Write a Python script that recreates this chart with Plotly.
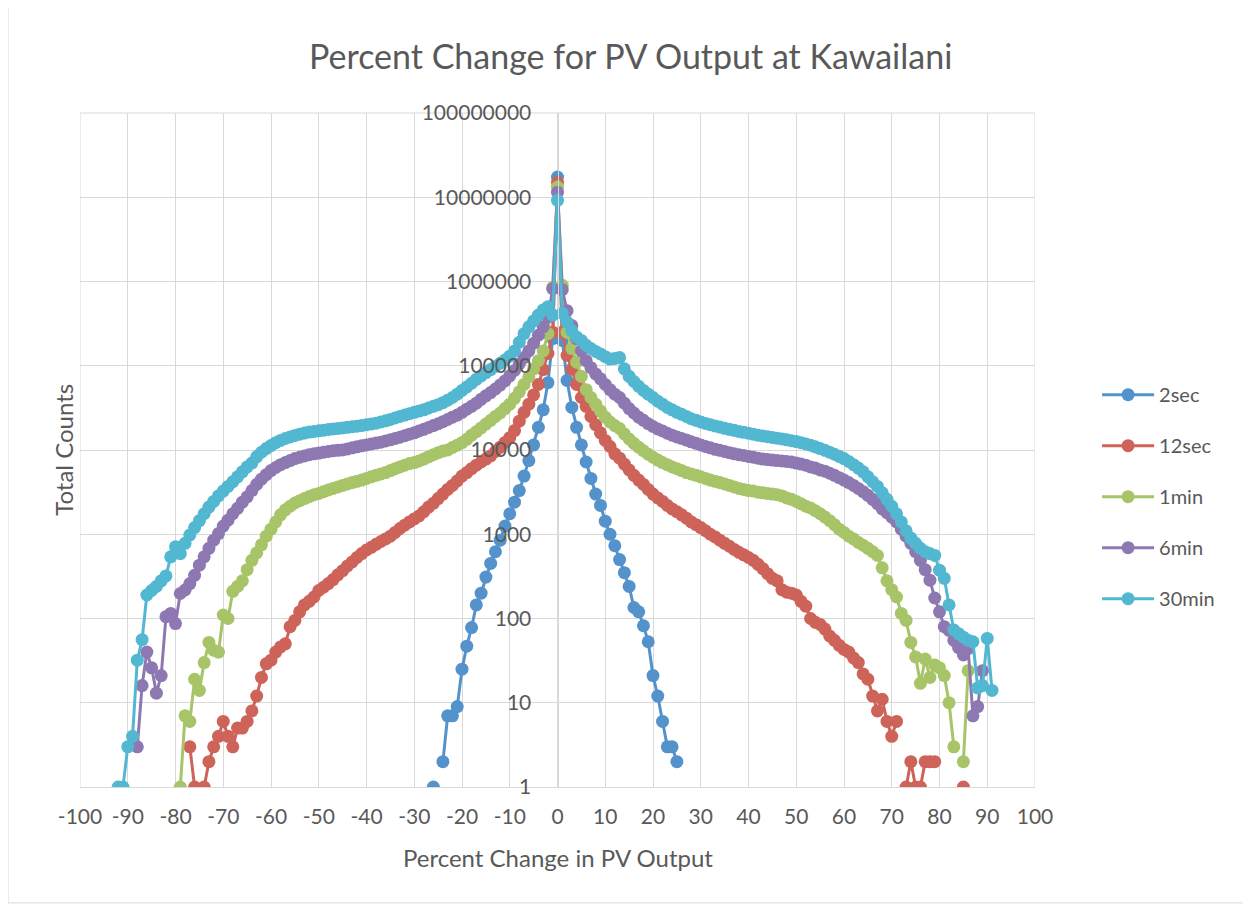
import plotly.graph_objects as go

# ---------------- data ----------------
x_2sec = list(range(-26, 26))
y_2sec = [1, None, 2, 7, 7, 9, 25, 47, 78, 145,
          200, 310, 450, 620, 850, 1250, 1750, 2400, 3300, 4900,
          7500, 11500, 18600, 30000, 63000, 210000, 17400000, 200000, 67000, 32000,
          18600, 11500, 7200, 4600, 3000, 2200, 1430, 1000, 730, 500,
          350, 240, 135, 120, 82, 53, 21, 12, 6, 3,
          3, 2]

x_12sec = list(range(-77, 86))
y_12sec = [3, 1, None, 1, 2, 3, 4, 6, 4, 3,
           5, 5, 6, 8, 12, 20, 29, 32, 40, 46,
           50, 80, 95, 120, 145, 160, 180, 215, 235, 260,
           290, 330, 370, 420, 470, 530, 590, 650, 700, 760,
           820, 880, 950, 1050, 1170, 1280, 1400, 1520, 1650, 1850,
           2100, 2330, 2650, 3000, 3400, 3800, 4300, 4900, 5400, 6000,
           6600, 7200, 7800, 8500, 9600, 10800, 12300, 14000, 17000, 22000,
           28000, 35000, 45000, 60000, 90000, 140000, 250000, 15000000, 250000, 133000,
           91000, 60000, 42000, 33000, 25000, 20000, 16000, 13000, 11000, 9000,
           8000, 6800, 5800, 5000, 4400, 3900, 3400, 3000, 2700, 2450,
           2200, 2000, 1850, 1700, 1550, 1400, 1300, 1200, 1100, 1000,
           930, 850, 780, 720, 660, 610, 570, 530, 490, 440,
           390, 340, 300, 280, 220, 205, 200, 190, 160, 140,
           100, 90, 85, 75, 62, 55, 48, 43, 40, 34,
           30, 22, 19, 12, 8, 11, 6, 4, 6, None,
           1, 2, 1, 1, 2, 2, 2, None, None, None,
           None, None, 1]

x_1min = list(range(-79, 87))
y_1min = [1, 7, 6, 19, 14, 30, 52, 42, 40, 110,
          100, 210, 240, 280, 380, 490, 600, 750, 950, 1150,
          1400, 1700, 1950, 2150, 2350, 2500, 2650, 2800, 2950, 3050,
          3200, 3350, 3500, 3650, 3800, 3950, 4100, 4250, 4400, 4600,
          4800, 5000, 5200, 5400, 5700, 6000, 6300, 6600, 6900, 7100,
          7400, 7800, 8300, 8800, 9300, 9700, 10000, 10700, 11400, 12200,
          13400, 15000, 16500, 18300, 20300, 22500, 25000, 27500, 31000, 35000,
          41000, 49000, 60000, 74000, 92000, 115000, 150000, 240000, 850000, 13200000,
          900000, 250000, 160000, 110000, 75000, 52000, 42000, 35000, 29000, 24500,
          21500, 19500, 18000, 15500, 13500, 12000, 10800, 9800, 8900, 8200,
          7600, 7100, 6700, 6300, 6000, 5700, 5400, 5200, 5000, 4800,
          4600, 4400, 4250, 4100, 3950, 3800, 3650, 3500, 3400, 3300,
          3250, 3150, 3100, 3050, 3000, 2950, 2850, 2700, 2600, 2450,
          2300, 2150, 2050, 1900, 1750, 1600, 1450, 1300, 1150, 1050,
          950, 880, 800, 740, 680, 620, 560, 400, 280, 220,
          180, 115, 95, 52, 35, 17, 33, 20, 28, 26,
          21, 10, 3, None, 2, 24]

x_6min = list(range(-88, 90))
y_6min = [3, 16, 40, 26, 13, 21, 105, 115, 87, 198,
          218, 260, 325, 430, 540, 680, 850, 1020, 1250, 1470,
          1750, 2030, 2400, 2770, 3300, 3900, 4500, 5100, 5700, 6200,
          6700, 7100, 7500, 7900, 8200, 8500, 8800, 9000, 9200, 9400,
          9600, 9800, 9900, 10000, 10300, 10600, 10900, 11200, 11500, 11800,
          12100, 12400, 12800, 13200, 13700, 14200, 14800, 15400, 16000, 16800,
          17600, 18500, 19500, 20500, 21700, 23000, 24500, 26000, 28000, 30500,
          33000, 36000, 40000, 44000, 48000, 53000, 59000, 66000, 76000, 88000,
          105000, 125000, 150000, 185000, 230000, 290000, 380000, 820000, 11500000, 800000,
          450000, 300000, 210000, 150000, 115000, 95000, 80000, 70000, 60000, 52000,
          46000, 42000, 36000, 31000, 27500, 24500, 22500, 20500, 19000, 17800,
          16800, 15800, 15000, 14300, 13700, 13100, 12500, 12000, 11500, 11000,
          10600, 10200, 9900, 9600, 9300, 9000, 8800, 8600, 8400, 8200,
          8000, 7800, 7700, 7600, 7500, 7400, 7300, 7200, 7000, 6800,
          6600, 6300, 6100, 5800, 5600, 5300, 5000, 4700, 4400, 4100,
          3800, 3500, 3200, 2900, 2600, 2300, 2000, 1800, 1600, 1400,
          1150, 950, 780, 620, 490, 380, 285, 175, 120, 80,
          72, 55, 45, 37, 44, 7, 9, 24]

x_30min = list(range(-92, 92))
y_30min = [1, 1, 3, 4, 32, 56, 190, 215, 240, 280,
           320, 540, 710, 590, 780, 980, 1200, 1450, 1750, 2100,
           2450, 2850, 3250, 3700, 4200, 4800, 5500, 6300, 7000, 8300,
           9400, 10400, 11300, 12200, 13000, 13700, 14300, 14900, 15400, 15900,
           16300, 16600, 16900, 17200, 17500, 17800, 18000, 18300, 18600, 18900,
           19200, 19500, 20000, 20400, 20800, 21500, 22200, 23000, 24000, 25000,
           26000, 27000, 28000, 29000, 30000, 31500, 33000, 34500, 36500, 39000,
           42000, 46000, 51000, 56000, 62000, 69000, 76000, 83000, 90000, 98000,
           107000, 117000, 130000, 150000, 190000, 240000, 290000, 340000, 400000, 460000,
           500000, 400000, 9200000, 420000, 330000, 260000, 220000, 200000, 175000, 160000,
           148000, 138000, 128000, 120000, 122000, 125000, 92000, 75000, 65000, 57000,
           51000, 46000, 42000, 38000, 35000, 32000, 30000, 28000, 26500, 25000,
           23500, 22500, 21500, 20700, 20000, 19300, 18700, 18100, 17600, 17100,
           16600, 16200, 15800, 15400, 15000, 14700, 14400, 14100, 13800, 13500,
           13200, 12900, 12600, 12200, 11800, 11400, 10900, 10400, 9900, 9400,
           8900, 8400, 7900, 7300, 6700, 6100, 5500, 4800, 4200, 3700,
           3100, 2600, 2150, 1750, 1400, 1100, 900, 780, 680, 620,
           590, 560, 375, 300, 145, 73, 66, 60, 55, 53,
           15, 16, 58, 14]

series_names = ["2sec", "12sec", "1min", "6min", "30min"]
series_colors = ["#5492CC", "#CE6359", "#A8C468", "#8E78B2", "#52B7D1"]

x_ticks = list(range(-100, 101, 10))
x_tick_labels = [str(v) for v in x_ticks]
y_ticks = [1, 10, 100, 1000, 10000, 100000, 1000000, 10000000, 100000000]
y_tick_labels = [str(v) for v in y_ticks]

assert len(x_2sec) == len(y_2sec)
assert len(x_12sec) == len(y_12sec)
assert len(x_1min) == len(y_1min)
assert len(x_6min) == len(y_6min)
assert len(x_30min) == len(y_30min)

# ---------------- figure ----------------
FONT = "Lato, 'Open Sans', sans-serif"
TXT = "#595959"
GRID = "#d9d9d9"

fig = go.Figure()
all_x = [x_2sec, x_12sec, x_1min, x_6min, x_30min]
all_y = [y_2sec, y_12sec, y_1min, y_6min, y_30min]
for name, col, xs, ys in zip(series_names, series_colors, all_x, all_y):
    fig.add_trace(go.Scatter(
        x=xs, y=ys, name=name, mode="lines+markers",
        line=dict(color=col, width=3),
        marker=dict(color=col, size=13, line=dict(width=0)),
        connectgaps=False, legendgroup=name,
    ))

edge_lines = [
    dict(type="line", xref="x", yref="paper", x0=x_ticks[0], x1=x_ticks[0], y0=0, y1=1,
         line=dict(color=GRID, width=1), layer="below"),
    dict(type="line", xref="x", yref="paper", x0=x_ticks[-1], x1=x_ticks[-1], y0=0, y1=1,
         line=dict(color=GRID, width=1), layer="below"),
    dict(type="line", xref="paper", yref="paper", x0=0, x1=1, y0=1, y1=1,
         line=dict(color=GRID, width=1), layer="below"),
]

fig.update_layout(
    width=1243, height=898,
    margin=dict(l=72, r=216, t=105, b=119),
    paper_bgcolor="white", plot_bgcolor="white",
    font=dict(family=FONT, color=TXT, size=20),
    showlegend=True,
    legend=dict(x=1.065, y=0.611, xanchor="left", yanchor="top",
                font=dict(size=20, color=TXT), tracegroupgap=22,
                itemwidth=52, bgcolor="rgba(0,0,0,0)"),
    xaxis=dict(range=[-100, 100], tickvals=x_ticks, ticktext=x_tick_labels,
               showgrid=True, gridcolor=GRID, gridwidth=1, zeroline=False,
               showline=True, linecolor=GRID, linewidth=1, mirror=False,
               ticks="", ticklabelstandoff=11,
               tickfont=dict(size=21, color=TXT)),
    yaxis=dict(type="log", range=[0, 8], tickvals=y_ticks, ticktext=y_tick_labels,
               showgrid=True, gridcolor=GRID, gridwidth=1, zeroline=False,
               anchor="free", position=0.5, showline=True, linecolor=GRID,
               linewidth=1, ticks="", ticklabelstandoff=22,
               tickfont=dict(size=21, color=TXT)),
    annotations=[
        dict(text="Percent Change for PV Output at Kawailani", xref="paper", yref="paper",
             x=0.576, y=1.086, xanchor="center", yanchor="middle", showarrow=False,
             font=dict(size=34, color=TXT, family=FONT)),
        dict(text="Percent Change in PV Output", xref="paper", yref="paper",
             x=0.5, y=-0.105, xanchor="center", yanchor="middle", showarrow=False,
             font=dict(size=24, color=TXT, family=FONT)),
        dict(text="Total Counts", xref="paper", yref="paper", textangle=-90,
             x=-0.018, y=0.5, xanchor="center", yanchor="middle", showarrow=False,
             font=dict(size=24, color=TXT, family=FONT)),
    ],
    shapes=[dict(type="rect", xref="paper", yref="paper",
                 x0=-0.0754, x1=1.26, y0=-0.172, y1=1.2,
                 line=dict(color=GRID, width=1), fillcolor="rgba(0,0,0,0)", layer="below")]
           + edge_lines,
)

fig.write_html("out.html")
